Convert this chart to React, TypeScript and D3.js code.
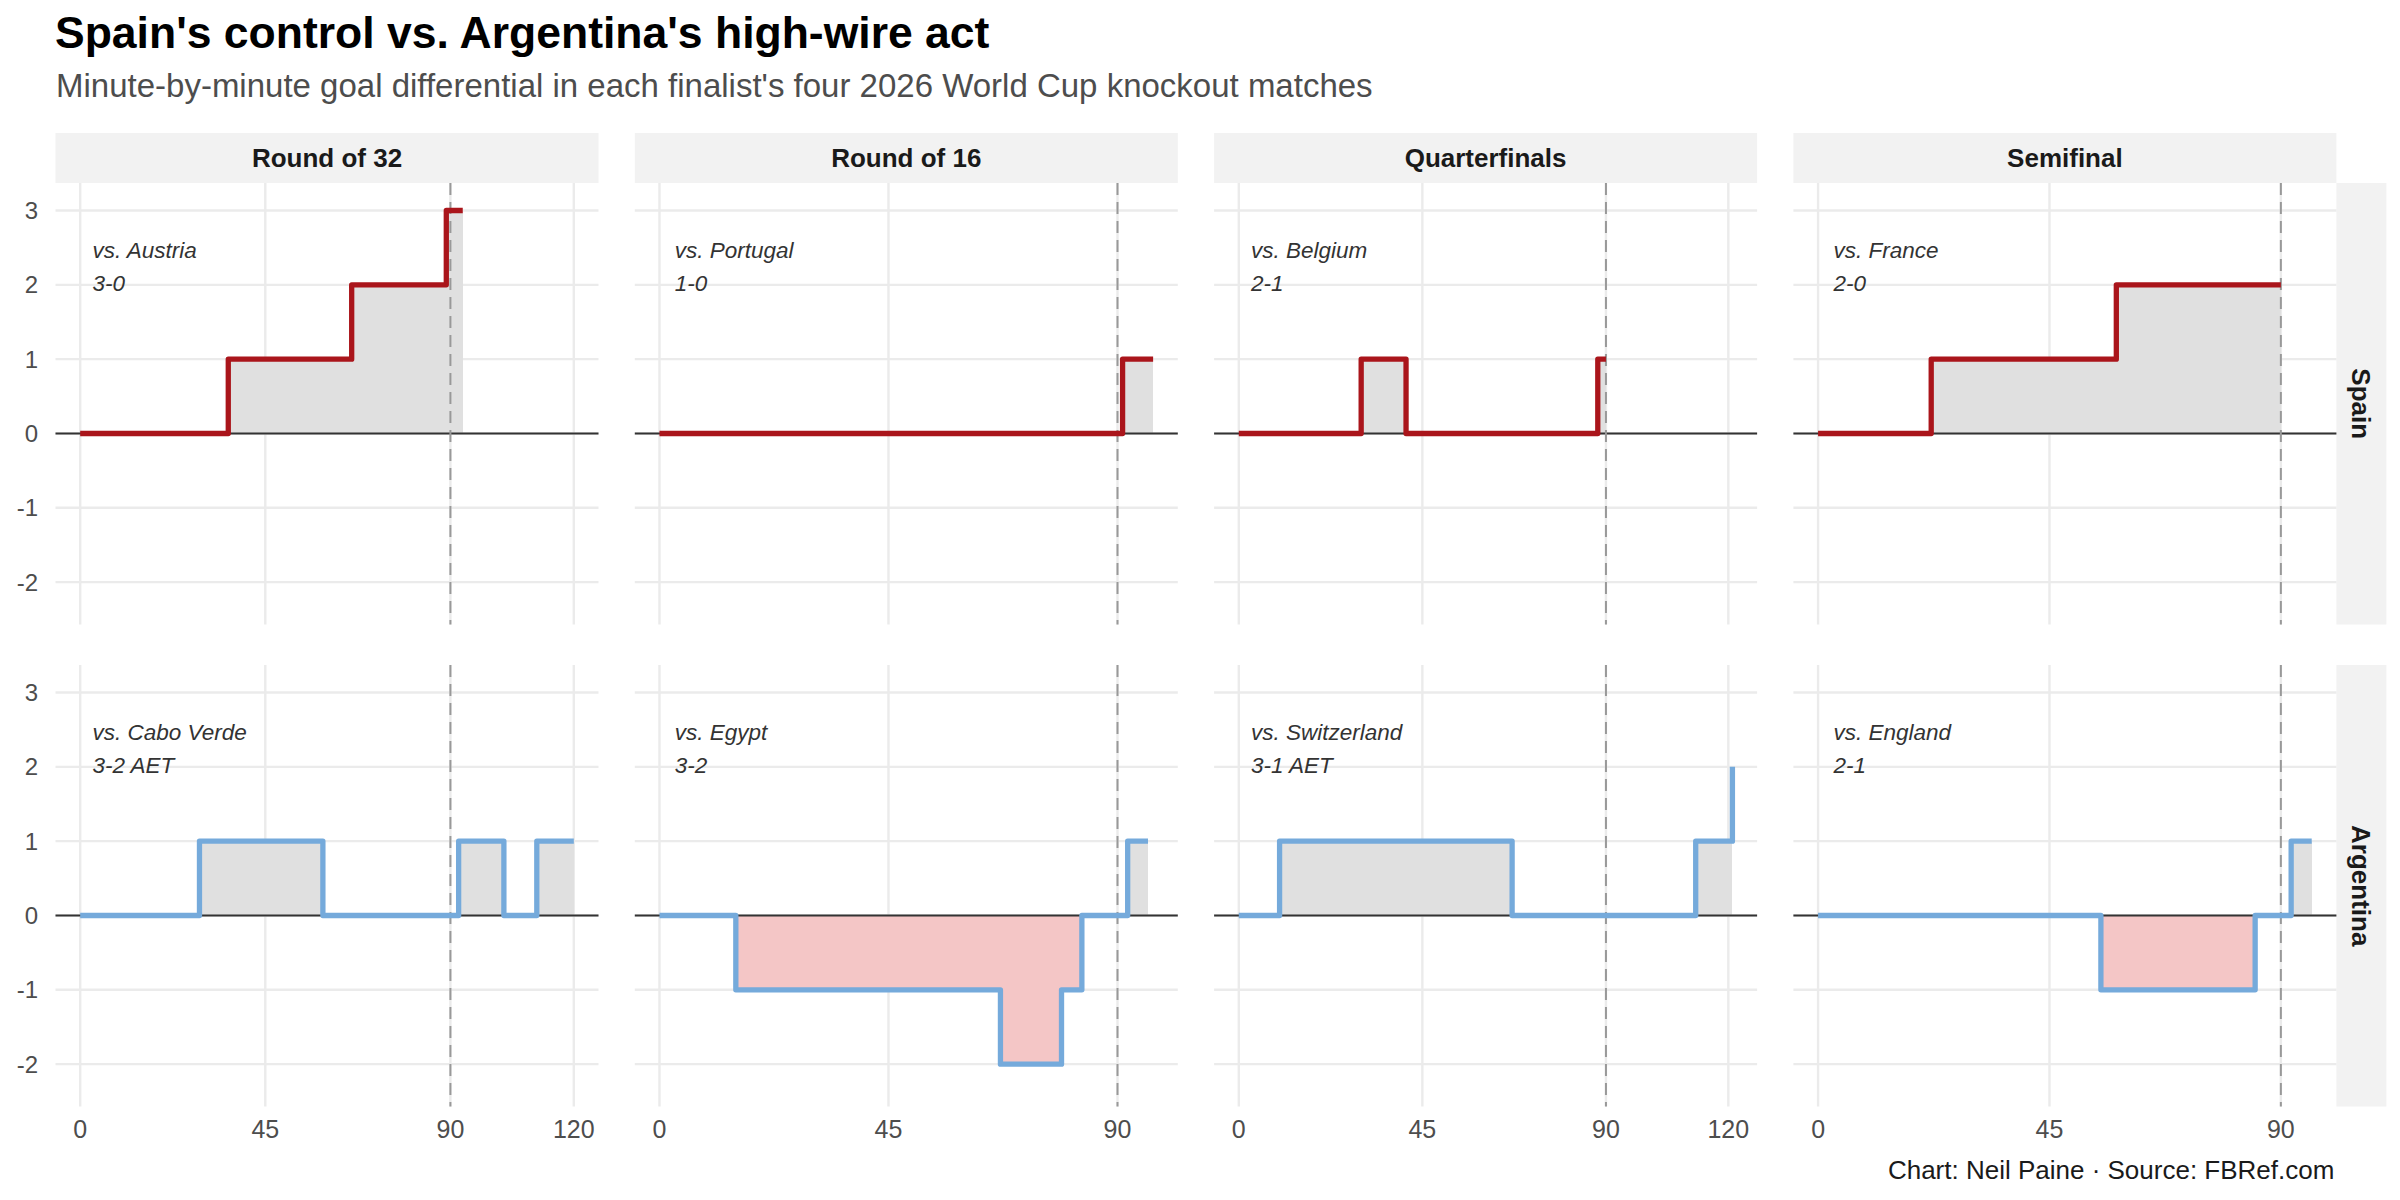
import * as d3 from 'd3';

// ---- data ----
const rounds = ['Round of 32', 'Round of 16', 'Quarterfinals', 'Semifinal'];
const teams = ['Spain', 'Argentina'];

const spainOpponents = ['vs. Austria', 'vs. Portugal', 'vs. Belgium', 'vs. France'];
const spainScores = ['3-0', '1-0', '2-1', '2-0'];
const spainGoalMinutes = [[36, 66, 89], [91], [30, 41, 88], [22, 58]];
const spainDiffs = [[1, 2, 3], [1], [1, 0, 1], [1, 2]];
const spainEnd = [93, 97, 90, 90];

const argOpponents = ['vs. Cabo Verde', 'vs. Egypt', 'vs. Switzerland', 'vs. England'];
const argScores = ['3-2 AET', '3-2', '3-1 AET', '2-1'];
const argGoalMinutes = [[29, 59, 92, 103, 111], [15, 67, 79, 83, 92], [10, 67, 112, 121], [55, 85, 92]];
const argDiffs = [[1, 0, 1, 0, 1], [-1, -2, -1, 0, 1], [1, 0, 1, 2], [-1, 0, 1]];
const argEnd = [120, 96, 121, 96];

const xBreaks = [0, 45, 90, 120];
const yBreaks = [-2, -1, 0, 1, 2, 3];
const regulation = 90;

const title = "Spain's control vs. Argentina's high-wire act";
const subtitle = "Minute-by-minute goal differential in each finalist's four 2026 World Cup knockout matches";
const caption = 'Chart: Neil Paine · Source: FBRef.com';

// ---- look ----
const W = 2400;
const H = 1200;
const FONT = '"Liberation Sans", Arial, Helvetica, sans-serif';
const teamColors = ['#AA151B', '#75AADB'];
const aheadFill = '#E0E0E0';
const behindFill = '#F4C6C6';
const gridColor = '#EBEBEB';
const stripFill = '#F2F2F2';

const panelLeft = 55.5;
const panelStep = 579.3;
const panelW = 543;
const rowTops = [183, 665];
const panelH = 441.5;
const stripTop = 133;
const stripH = 50;
const rowStripW = 50;

const teamData = [
  { opp: spainOpponents, score: spainScores, mins: spainGoalMinutes, diffs: spainDiffs, end: spainEnd },
  { opp: argOpponents, score: argScores, mins: argGoalMinutes, diffs: argDiffs, end: argEnd },
];

type Pt = { m: number; d: number };

function buildSeries(mins: number[], diffs: number[], end: number): Pt[] {
  const pts: Pt[] = [{ m: 0, d: 0 }];
  mins.forEach((m, i) => pts.push({ m, d: diffs[i] }));
  pts.push({ m: end, d: diffs.length ? diffs[diffs.length - 1] : 0 });
  return pts;
}

function Panel({ row, col }: { row: number; col: number }) {
  const t = teamData[row];
  const maxMin = Math.max(spainEnd[col], argEnd[col]);
  const pad = maxMin * 0.05;
  const x0 = panelLeft + col * panelStep;
  const top = rowTops[row];
  const x = d3.scaleLinear().domain([-pad, maxMin + pad]).range([x0, x0 + panelW]);
  const y = d3.scaleLinear().domain([-2.57, 3.37]).range([top + panelH, top]);
  const pts = buildSeries(t.mins[col], t.diffs[col], t.end[col]);

  const line = d3.line<Pt>().x(p => x(p.m)).y(p => y(p.d)).curve(d3.curveStepAfter);
  // shaded area between the step line and zero, one block per scoreline
  const segs = pts.slice(0, -1).map((p, i) => ({ from: p.m, to: pts[i + 1].m, d: p.d })).filter(s => s.d !== 0);
  const xb = xBreaks.filter(b => b <= maxMin + pad);

  return (
    <g>
      {yBreaks.map(b => (
        <line key={'gy' + b} x1={x0} x2={x0 + panelW} y1={y(b)} y2={y(b)} stroke={gridColor} strokeWidth={2.4} />
      ))}
      {xb.map(b => (
        <line key={'gx' + b} x1={x(b)} x2={x(b)} y1={top} y2={top + panelH} stroke={gridColor} strokeWidth={2.4} />
      ))}
      {segs.map((s, i) => (
        <rect key={'f' + i} x={x(s.from)} width={x(s.to) - x(s.from)}
          y={Math.min(y(0), y(s.d))} height={Math.abs(y(s.d) - y(0))}
          fill={s.d > 0 ? aheadFill : behindFill} shapeRendering="crispEdges" />
      ))}
      <line x1={x0} x2={x0 + panelW} y1={y(0)} y2={y(0)} stroke="#333333" strokeWidth={2} />
      <line x1={x(regulation)} x2={x(regulation)} y1={top} y2={top + panelH} stroke="#999999" strokeWidth={2} strokeDasharray="12,7" />
      <path d={line(pts) || ''} fill="none" stroke={teamColors[row]} strokeWidth={5.3} strokeLinejoin="round" />
      <text x={x(3)} y={y(2.36)} fontFamily={FONT} fontStyle="italic" fontSize={22.5} fill="#333333">
        <tspan x={x(3)}>{t.opp[col]}</tspan>
        <tspan x={x(3)} dy={33}>{t.score[col]}</tspan>
      </text>
      {col === 0 && yBreaks.map(b => (
        <text key={'yl' + b} x={38} y={y(b)} textAnchor="end" dominantBaseline="central"
          fontFamily={FONT} fontSize={24} fill="#4D4D4D">{String(b)}</text>
      ))}
      {row === 1 && xb.map(b => (
        <text key={'xl' + b} x={x(b)} y={1138} textAnchor="middle"
          fontFamily={FONT} fontSize={25} fill="#4D4D4D">{String(b)}</text>
      ))}
    </g>
  );
}

export default function App() {
  const stripRight = panelLeft + 3 * panelStep + panelW;
  return (
    <svg width={W} height={H} viewBox={`0 0 ${W} ${H}`}
      style={{ position: 'absolute', left: 0, top: 0, background: '#fff' }}>
      <rect width={W} height={H} fill="#fff" />
      <text x={55} y={48} fontFamily={FONT} fontWeight="bold" fontSize={44.5} fill="#000">{title}</text>
      <text x={56} y={97} fontFamily={FONT} fontSize={33} fill="#4D4D4D">{subtitle}</text>

      {rounds.map((r, c) => {
        const x0 = panelLeft + c * panelStep;
        return (
          <g key={r}>
            <rect x={x0} y={stripTop} width={panelW} height={stripH} fill={stripFill} />
            <text x={x0 + panelW / 2} y={stripTop + stripH / 2} textAnchor="middle" dominantBaseline="central"
              fontFamily={FONT} fontWeight="bold" fontSize={26} fill="#1A1A1A">{r}</text>
          </g>
        );
      })}

      {teams.map((tm, r) => {
        const cy = rowTops[r] + panelH / 2;
        const cx = stripRight + rowStripW / 2;
        return (
          <g key={tm}>
            <rect x={stripRight} y={rowTops[r]} width={rowStripW} height={panelH} fill={stripFill} />
            <text x={cx} y={cy} transform={`rotate(90 ${cx} ${cy})`} textAnchor="middle" dominantBaseline="central"
              fontFamily={FONT} fontWeight="bold" fontSize={26} fill="#1A1A1A">{tm}</text>
          </g>
        );
      })}

      {teams.map((tm, r) => rounds.map((rd, c) => <Panel key={tm + rd} row={r} col={c} />))}

      <text x={stripRight - 2} y={1179} textAnchor="end" fontFamily={FONT} fontSize={26} fill="#1A1A1A">{caption}</text>
    </svg>
  );
}
